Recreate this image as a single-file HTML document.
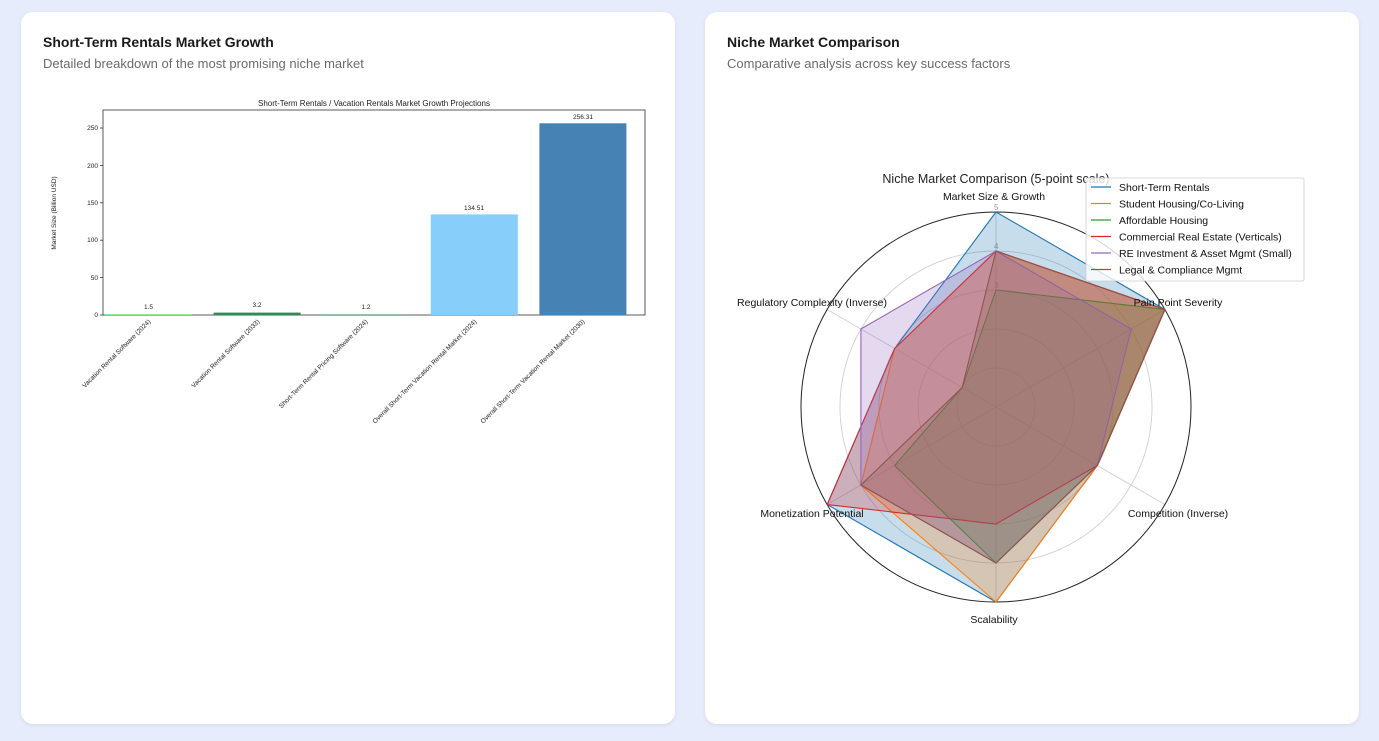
<!DOCTYPE html>
<html><head><meta charset="utf-8"><style>
body{margin:0;width:1379px;height:741px;background:#e6ecfb;font-family:"Liberation Sans",sans-serif;overflow:hidden;position:relative}
.card{position:absolute;top:12px;width:654px;height:712px;background:#fff;border-radius:12px;box-shadow:0 1px 4px rgba(0,0,0,0.08)}
.t{position:absolute;left:22px;top:22px;font-size:14px;font-weight:bold;color:#1a1a1a}
.s{position:absolute;left:22px;top:44px;font-size:13px;color:#6b6b6b}
svg{position:absolute;left:0;top:0}
</style></head><body>
<div class="card" style="left:21px"><div class="t">Short-Term Rentals Market Growth</div><div class="s">Detailed breakdown of the most promising niche market</div></div>
<div class="card" style="left:705px"><div class="t">Niche Market Comparison</div><div class="s">Comparative analysis across key success factors</div></div>
<svg width="1379" height="741" font-family="Liberation Sans, sans-serif">
<text x="374" y="106" font-size="8" text-anchor="middle" fill="#222">Short-Term Rentals / Vacation Rentals Market Growth Projections</text>
<g fill="none">
<rect x="103" y="110" width="542" height="205" stroke="#333" stroke-width="0.8"/>
</g>
<g font-size="6.5" fill="#222" text-anchor="end">
<text x="98" y="317">0</text><text x="98" y="280">50</text><text x="98" y="242">100</text><text x="98" y="205">150</text><text x="98" y="168">200</text><text x="98" y="130">250</text>
</g>
<g stroke="#333" stroke-width="0.8"><line x1="100" x2="103" y1="315" y2="315"/><line x1="100" x2="103" y1="277.6" y2="277.6"/><line x1="100" x2="103" y1="240.2" y2="240.2"/><line x1="100" x2="103" y1="202.8" y2="202.8"/><line x1="100" x2="103" y1="165.4" y2="165.4"/><line x1="100" x2="103" y1="128" y2="128"/></g>
<text transform="translate(56,213) rotate(-90)" font-size="6.5" text-anchor="middle" fill="#222">Market Size (Billion USD)</text>
<rect x="105" y="313.9" width="87" height="1.1" fill="#90ee90"/>
<rect x="213.6" y="312.6" width="87" height="2.4" fill="#2e8b57"/>
<rect x="322.2" y="314.1" width="87" height="0.9" fill="#8fbc8f"/>
<rect x="430.8" y="214.4" width="87" height="100.6" fill="#87cefa"/>
<rect x="539.4" y="123.3" width="87" height="191.7" fill="#4682b4"/>
<g font-size="6.5" fill="#222" text-anchor="middle">
<text x="148.5" y="309">1.5</text><text x="257" y="307">3.2</text><text x="366" y="309">1.2</text><text x="474" y="210">134.51</text><text x="583" y="119">256.31</text>
</g>
<g font-size="6.5" fill="#222" text-anchor="end">
<text transform="translate(151,322) rotate(-45)">Vacation Rental Software (2024)</text>
<text transform="translate(260,322) rotate(-45)">Vacation Rental Software (2033)</text>
<text transform="translate(368,322) rotate(-45)">Short-Term Rental Pricing Software (2024)</text>
<text transform="translate(477,322) rotate(-45)">Overall Short-Term Vacation Rental Market (2024)</text>
<text transform="translate(585,322) rotate(-45)">Overall Short-Term Vacation Rental Market (2030)</text>
</g>

<!-- radar -->
<text x="996" y="183" font-size="12.5" text-anchor="middle" fill="#222">Niche Market Comparison (5-point scale)</text>
<g fill="none" stroke="#d0d0d0" stroke-width="0.9">
<circle cx="996" cy="407" r="39"/><circle cx="996" cy="407" r="78"/><circle cx="996" cy="407" r="117"/><circle cx="996" cy="407" r="156"/>
<line x1="996" y1="407" x2="996" y2="212"/><line x1="996" y1="407" x2="1164.9" y2="309.5"/><line x1="996" y1="407" x2="1164.9" y2="504.5"/><line x1="996" y1="407" x2="996" y2="602"/><line x1="996" y1="407" x2="827.1" y2="504.5"/><line x1="996" y1="407" x2="827.1" y2="309.5"/>
</g>
<circle cx="996" cy="407" r="195" fill="none" stroke="#222" stroke-width="1"/>
<g font-size="8" fill="#999" text-anchor="start"><text x="994" y="210">5</text><text x="994" y="249">4</text><text x="994" y="288">3</text></g>
<g stroke-width="1.1" fill-opacity="0.25">
<polygon points="996,212 1164.9,309.5 1097.3,465.5 996,602 827.2,504.5 894.7,348.5" fill="#1f77b4" stroke="#1f77b4"/>
<polygon points="996,251 1164.9,309.5 1097.3,465.5 996,602 860.9,485 894.7,348.5" fill="#ff7f0e" stroke="#ff7f0e"/>
<polygon points="996,290 1164.9,309.5 1097.3,465.5 996,563 894.7,465.5 962.2,387.5" fill="#2ca02c" stroke="#2ca02c"/>
<polygon points="996,251 1164.9,309.5 1097.3,465.5 996,524 827.2,504.5 894.7,348.5" fill="#d62728" stroke="#d62728"/>
<polygon points="996,251 1131.1,329 1097.3,465.5 996,563 860.9,485 860.9,329" fill="#9467bd" stroke="#9467bd"/>
<polygon points="996,251 1164.9,309.5 1097.3,465.5 996,563 860.9,485 962.2,387.5" fill="#8c564b" stroke="#8c564b"/>
</g>
<g font-size="10.5" fill="#111">
<text x="994" y="200" text-anchor="middle">Market Size &amp; Growth</text>
<text x="1178" y="306" text-anchor="middle">Pain Point Severity</text>
<text x="1178" y="517" text-anchor="middle">Competition (Inverse)</text>
<text x="994" y="623" text-anchor="middle">Scalability</text>
<text x="812" y="517" text-anchor="middle">Monetization Potential</text>
<text x="812" y="306" text-anchor="middle">Regulatory Complexity (Inverse)</text>
</g>
<rect x="1086" y="178" width="218" height="103" rx="2" fill="#fff" fill-opacity="0.8" stroke="#ccc" stroke-width="0.8"/>
<g stroke-width="1.3">
<line x1="1091" x2="1111" y1="187" y2="187" stroke="#1f77b4"/>
<line x1="1091" x2="1111" y1="203.5" y2="203.5" stroke="#ff7f0e"/>
<line x1="1091" x2="1111" y1="220" y2="220" stroke="#2ca02c"/>
<line x1="1091" x2="1111" y1="236.5" y2="236.5" stroke="#d62728"/>
<line x1="1091" x2="1111" y1="253" y2="253" stroke="#9467bd"/>
<line x1="1091" x2="1111" y1="269.5" y2="269.5" stroke="#8c564b"/>
</g>
<g font-size="10.5" fill="#111">
<text x="1119" y="191">Short-Term Rentals</text>
<text x="1119" y="207.5">Student Housing/Co-Living</text>
<text x="1119" y="224">Affordable Housing</text>
<text x="1119" y="240.5">Commercial Real Estate (Verticals)</text>
<text x="1119" y="257">RE Investment &amp; Asset Mgmt (Small)</text>
<text x="1119" y="273.5">Legal &amp; Compliance Mgmt</text>
</g>
</svg>
</body></html>
